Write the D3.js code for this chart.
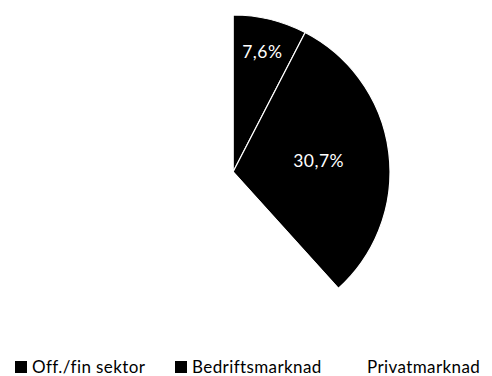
<!DOCTYPE html>
<html>
<head>
<meta charset="utf-8">
<script src="https://cdn.jsdelivr.net/npm/d3@7"></script>
<style>
  html, body { margin: 0; padding: 0; background: #fff; }
  svg { display: block; }
  text { font-family: Lato, "Open Sans", sans-serif; font-weight: 400; }
</style>
</head>
<body>
<svg id="chart" width="492" height="376"></svg>
<script>
// Market share by segment
const categories = ["Off./fin sektor", "Bedriftsmarknad", "Privatmarknad"];
const shares = [7.6, 30.7, 61.7];
const valueLabels = ["7,6%", "30,7%", ""];
const fills = ["#000000", "#000000", "#ffffff"];

const width = 492, height = 376;
const cx = 233, cy = 172, radius = 157;

const svg = d3.select("#chart");

const pie = d3.pie().sort(null).value(d => d)(shares);
const arc = d3.arc().innerRadius(0).outerRadius(radius);

const g = svg.append("g").attr("transform", `translate(${cx},${cy})`);

g.selectAll("path.slice")
  .data(pie)
  .join("path")
  .attr("class", "slice")
  .attr("d", arc)
  .attr("fill", (d, i) => fills[i])
  .attr("stroke", "#fff")
  .attr("stroke-width", 1.2)
  .attr("stroke-linejoin", "round");

// labels sit further out in the narrow slice so they stay clear of the edges
const labelRadius = [0.79, 0.55, 0.6];
g.selectAll("text.value")
  .data(pie)
  .join("text")
  .attr("class", "value")
  .attr("transform", (d, i) => {
    const a = (d.startAngle + d.endAngle) / 2;
    const r = radius * labelRadius[i];
    return `translate(${r * Math.sin(a)},${-r * Math.cos(a)})`;
  })
  .attr("text-anchor", "middle")
  .attr("dy", "0.35em")
  .attr("fill", "#fff")
  .attr("font-weight", 300)
  .attr("letter-spacing", 0.5)
  .attr("font-size", 17.5)
  .text((d, i) => valueLabels[i]);

// legend along the bottom
const legendX = [15, 175, 350];
const legend = svg.append("g").attr("transform", "translate(0,361)");
const item = legend.selectAll("g.item")
  .data(categories)
  .join("g")
  .attr("class", "item")
  .attr("transform", (d, i) => `translate(${legendX[i]},0)`);

item.append("rect")
  .attr("width", 12)
  .attr("height", 12)
  .attr("fill", (d, i) => fills[i]);

item.append("text")
  .attr("x", 17)
  .attr("y", 12)
  .attr("fill", "#000")
  .attr("font-size", 17)
  .attr("letter-spacing", 0.4)
  .text(d => d);
</script>
</body>
</html>
